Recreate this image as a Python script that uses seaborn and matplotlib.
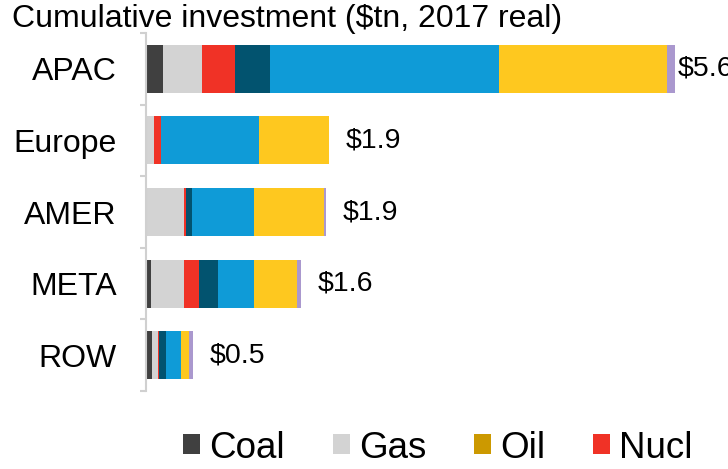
import numpy as np
import pandas as pd
import seaborn as sns
import matplotlib.pyplot as plt
from matplotlib.patches import Patch
from matplotlib.transforms import Bbox, TransformedBbox

# Data ($tn, 2017 real)
regions = ['APAC', 'Europe', 'AMER', 'META', 'ROW']
techs = ['Coal', 'Gas', 'Oil', 'Nuclear', 'Hydro', 'Wind', 'Solar', 'Other']
coal = [0.18, 0.00, 0.01, 0.05, 0.06]
gas = [0.41, 0.085, 0.39, 0.35, 0.07]
oil = [0.00, 0.00, 0.00, 0.00, 0.00]
nuclear = [0.35, 0.075, 0.02, 0.16, 0.01]
hydro = [0.37, 0.00, 0.07, 0.20, 0.07]
wind = [2.43, 1.04, 0.65, 0.38, 0.16]
solar = [1.78, 0.74, 0.75, 0.46, 0.09]
other = [0.09, 0.00, 0.02, 0.04, 0.035]
totals = ['$5.6', '$1.9', '$1.9', '$1.6', '$0.5']

colors = ['#404040', '#D3D3D3', '#CC9900', '#F03226',
          '#02536F', '#0F9BD7', '#FEC81F', '#AA98CE']

df = pd.DataFrame(dict(zip(techs, [coal, gas, oil, nuclear, hydro, wind, solar, other])),
                  index=regions)
cum = df.cumsum(axis=1)

sns.set_style('white')
plt.rcParams['font.family'] = ['Liberation Sans', 'DejaVu Sans']
plt.rcParams['text.color'] = 'black'
plt.rcParams['ytick.labelcolor'] = 'black'

fig = plt.figure(figsize=(7.28, 4.69), dpi=100)
ax = fig.add_axes([146 / 728, 78 / 469, 566 / 728, 358 / 469])

# stacked bars: draw cumulative sums from the outermost segment inwards
for tech, col in reversed(list(zip(techs, colors))):
    sns.barplot(x=cum[tech].values, y=regions, color=col, orient='h',
                width=0.67, linewidth=0, saturation=1, ax=ax)

# total labels
for i, (reg, lab) in enumerate(zip(regions, totals)):
    pad = 2 if reg == 'APAC' else 12
    ax.annotate(lab, (cum['Other'].iloc[i], i), xytext=(pad, 0),
                textcoords='offset points', va='center', ha='left',
                fontsize=20.5, color='black', annotation_clip=False)

ax.set_xlim(0, 6)
ax.set_ylim(4.5, -0.5)
ax.set_xlabel('')
ax.set_ylabel('')
ax.set_xticks([])
for s in ['top', 'right', 'bottom']:
    ax.spines[s].set_visible(False)
ax.spines['left'].set_color('#D0D0D0')
ax.spines['left'].set_linewidth(1.5)
ax.set_yticks(np.arange(-0.5, 5, 1), minor=True)
ax.tick_params(axis='y', which='major', length=0, pad=21, labelsize=23, labelcolor='black')
ax.tick_params(axis='y', which='minor', left=True, length=4, width=1.5, color='#D0D0D0')

fig.text(12 / 728, 1 - 19 / 469, 'Cumulative investment ($tn, 2017 real)',
         fontsize=23, va='center', ha='left', color='black')

handles = [Patch(facecolor=c, edgecolor='none', label=t) for t, c in zip(techs, colors)]
leg = fig.legend(handles=handles, loc='center left', bbox_to_anchor=(183 / 728, 1 - 448 / 469),
                 ncol=len(techs), frameon=False, fontsize=26.5, borderpad=0, borderaxespad=0,
                 handlelength=0.46, handleheight=0.46, handletextpad=0.25, columnspacing=1.3,
                 labelcolor='black')
# the legend in the original is cut off partway through "Nuclear"
clip = TransformedBbox(Bbox([[0, 0], [694 / 728, 1]]), fig.transFigure)
for t in leg.get_texts():
    t.set_clip_box(clip)
    t.set_clip_on(True)

fig.savefig('out.png', dpi=100)
